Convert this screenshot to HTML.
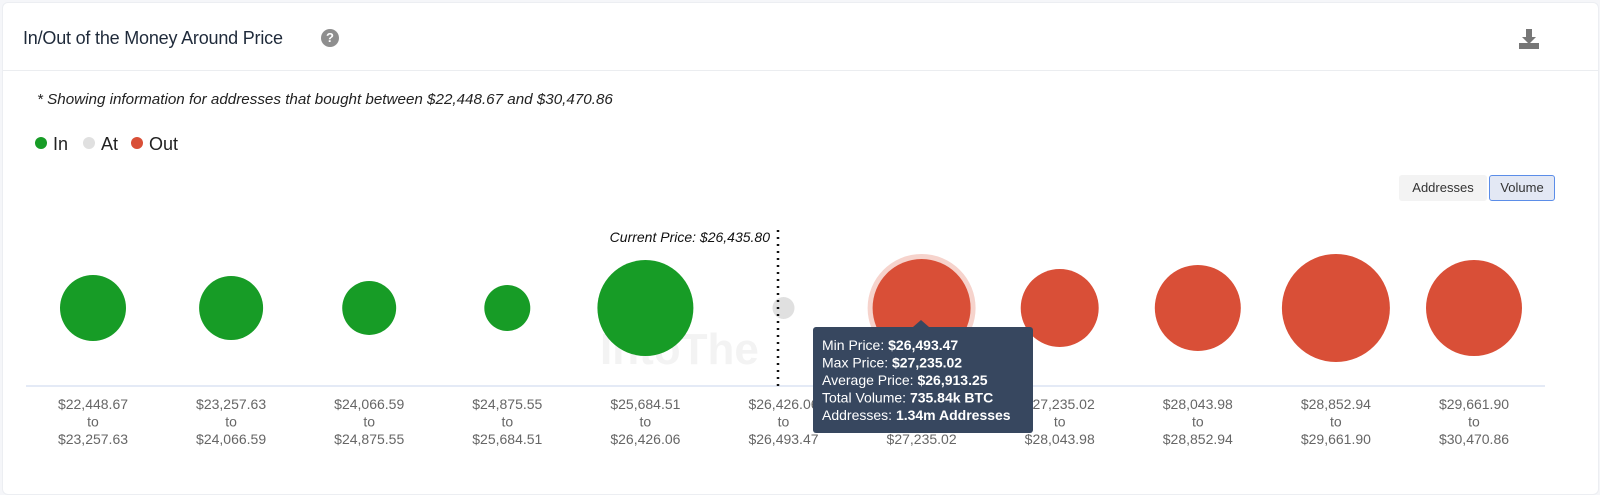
<!DOCTYPE html>
<html><head><meta charset="utf-8"><style>
body{margin:0;width:1600px;height:493px;background:#f5f6f9;font-family:"Liberation Sans",sans-serif;overflow:hidden}
#card{position:absolute;left:2px;top:2px;width:1595px;height:491px;background:#fff;border:1px solid #eceef2;border-radius:6px}
#title{position:absolute;left:20px;top:25px;font-size:18px;color:#1f2a3a;letter-spacing:-0.2px}
#help{position:absolute;left:318px;top:26px;width:18px;height:18px;border-radius:50%;background:#8e8e8e;color:#fff;font-size:13px;font-weight:bold;text-align:center;line-height:18px}
#sep{position:absolute;left:0;top:67px;width:100%;height:1px;background:#ebedf0}
#note{position:absolute;left:34px;top:88px;font-size:15.2px;font-style:italic;color:#222}
.leg{position:absolute;top:131px;font-size:18px;color:#222}
.dot{display:inline-block;width:12px;height:12px;border-radius:50%;margin-right:6px;vertical-align:1px}
.btn{position:absolute;top:172px;height:26px;line-height:26px;font-size:13px;color:#333;text-align:center;border-radius:3px}
</style></head><body>
<div id="card">
<div id="title">In/Out of the Money Around Price</div>
<div id="help">?</div>
<svg style="position:absolute;left:1514px;top:24px" width="24" height="24"><path d="M9 2h6v8h4l-7 7-7-7h4z" fill="#777"/><rect x="2" y="16" width="20" height="6" fill="#777"/></svg>
<div id="sep"></div>
<div id="note">* Showing information for addresses that bought between $22,448.67 and $30,470.86</div>
<div class="leg" style="left:32px"><span class="dot" style="background:#179c26"></span>In</div>
<div class="leg" style="left:80px"><span class="dot" style="background:#e0e0e0"></span>At</div>
<div class="leg" style="left:128px"><span class="dot" style="background:#d94f37"></span>Out</div>
<div class="btn" style="left:1396px;width:88px;background:#f3f3f3">Addresses</div>
<div class="btn" style="left:1486px;width:64px;background:#e3e8f4;border:1px solid #5b8de8;height:24px;line-height:24px">Volume</div>
</div>
<svg id="chart" style="position:absolute;left:0;top:0" width="1600" height="493"></svg>
<script>
const lows=["$22,448.67","$23,257.63","$24,066.59","$24,875.55","$25,684.51","$26,426.06","$26,493.47","$27,235.02","$28,043.98","$28,852.94","$29,661.90"];
const highs=["$23,257.63","$24,066.59","$24,875.55","$25,684.51","$26,426.06","$26,493.47","$27,235.02","$28,043.98","$28,852.94","$29,661.90","$30,470.86"];
const volumes=[334,314,223,162,706,37,736,466,567,894,706];
const status=["in","in","in","in","in","at","out","out","out","out","out"];
const colors={in:"#179c26",at:"#e0e0e0",out:"#d94f37"};
const NS="http://www.w3.org/2000/svg",svg=document.getElementById('chart');
const x0=93,step=138.1,cy=308,k=1.806;
const xs=i=>x0+i*step, rs=v=>Math.sqrt(v)*k;
function el(t,a,p){const e=document.createElementNS(NS,t);for(const q in a)e.setAttribute(q,a[q]);(p||svg).appendChild(e);return e;}
const wm=el('text',{x:600,y:364,'font-size':44,'font-weight':'bold',fill:'#f3f3f3'});wm.textContent="IntoThe";


const ax=el('line',{x1:26,x2:1545,y1:386,y2:386,stroke:'#c8d6ee','stroke-width':1});


volumes.forEach((v,i)=>{
 if(i===6){const h=el('circle',{cx:xs(i),cy:cy,r:rs(v)+5,fill:'#f6d3cc'});}
 const c=el('circle',{cx:xs(i),cy:cy,r:rs(v),fill:colors[status[i]]});
 
 
 [lows[i],'to',highs[i]].forEach((s,j)=>{const t=el('text',{x:xs(i),y:409+j*17.5,'text-anchor':'middle','font-size':14,fill:'#666'});t.textContent=s;
 
 });
});
const cp=el('line',{x1:778,x2:778,y1:230,y2:386,stroke:'#111','stroke-width':2.5,'stroke-dasharray':'2 5'});


const cpt=el('text',{x:770,y:242,'text-anchor':'end','font-size':14,'font-style':'italic',fill:'#111'});cpt.textContent="Current Price: $26,435.80";


const g=el('g',{});


el('rect',{x:813,y:327,width:220,height:106,rx:3,fill:'#37475f'},g);
el('path',{d:'M913 327 L921 320 L929 327 Z',fill:'#37475f'},g);
[["Min Price: ","$26,493.47"],["Max Price: ","$27,235.02"],["Average Price: ","$26,913.25"],["Total Volume: ","735.84k BTC"],["Addresses: ","1.34m Addresses"]].forEach((r,j)=>{
 const t=el('text',{x:822,y:350+j*17.5,'font-size':14,fill:'#fff'},g);
 const a=el('tspan',{},t);a.textContent=r[0];const b=el('tspan',{'font-weight':'bold'},t);b.textContent=r[1];});
</script>
</body></html>
